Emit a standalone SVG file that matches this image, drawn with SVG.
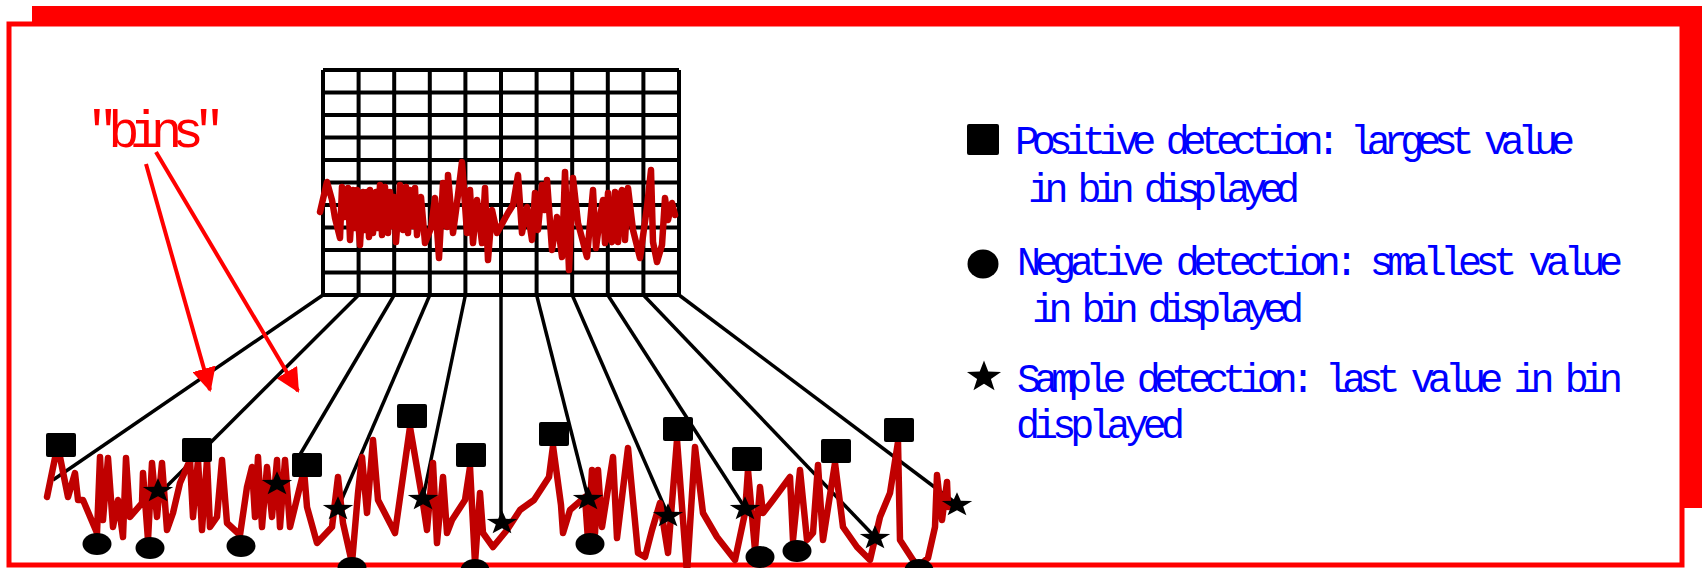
<svg xmlns="http://www.w3.org/2000/svg" width="1704" height="568" viewBox="0 0 1704 568">
<style>
.grid{fill:none;stroke:#000;stroke-width:4}
.fan{stroke:#000;stroke-width:3.5;fill:none}
.wave{fill:none;stroke:#C00000;stroke-width:6.5;stroke-linejoin:round;stroke-linecap:round}
.ptr{stroke:#FF0000;stroke-width:4;fill:none}
.leg{font-family:"Liberation Mono","DejaVu Sans Mono",monospace;font-size:40px;fill:#0000FF}
.bins{font-family:"Liberation Mono","DejaVu Sans Mono",monospace;font-size:52px;fill:#FF0000}
.mk{fill:#000}
</style>
<defs>
<marker id="ah" viewBox="0 0 24 24" refX="22" refY="12" markerWidth="24" markerHeight="24" markerUnits="userSpaceOnUse" orient="auto">
<path d="M0,0 L24,12 L0,24 Z" fill="#FF0000"/>
</marker>
<path id="star" d="M0,-16 L3.82,-5.26 L15.22,-4.94 L6.18,2.01 L9.4,12.94 L0,6.5 L-9.4,12.94 L-6.18,2.01 L-15.22,-4.94 L-3.82,-5.26 Z"/>
<rect id="sq" x="-15" y="-12" width="30" height="24" rx="2"/>
<ellipse id="dot" cx="0" cy="0" rx="14.5" ry="11"/>
</defs>

<g id="frame">
<rect x="32" y="6" width="1670" height="502" fill="#FF0000"/>
<rect x="9" y="24" width="1673" height="541" fill="#FFFFFF" stroke="#FF0000" stroke-width="5"/>
</g>

<g id="grid">
<path class="grid" d="M323,70 V295 M358.6,70 V295 M394.2,70 V295 M429.8,70 V295 M465.4,70 V295 M501,70 V295 M536.6,70 V295 M572.2,70 V295 M607.8,70 V295 M643.4,70 V295 M679,70 V295 M323,70 H679 M323,92.5 H679 M323,115 H679 M323,137.5 H679 M323,160 H679 M323,182.5 H679 M323,205 H679 M323,227.5 H679 M323,250 H679 M323,272.5 H679 M323,295 H679"/>
<polyline class="wave" points="320,212 327,182 332,200 335,218 340,238 342,187 345,217 348,188 350,240 353,190 355,228 357,190 359,232 360,245 363,192 365,230 367,192 369,237 370,190 373,233 376,192 378,228 380,185 382,235 385,187 388,233 390,192 392,226 394,197 396,242 400,185 403,230 406,187 408,233 410,190 413,226 415,188 417,235 421,197 425,243 431,228 435,198 439,258 443,183 447,227 448,175 453,233 457,203 462,162 467,233 470,190 473,243 477,200 482,243 485,188 488,260 492,210 497,233 508,213 513,205 518,175 522,233 527,207 532,240 535,193 538,230 542,185 545,210 547,180 552,250 557,217 562,257 565,172 569,270 573,178 578,223 587,257 593,190 596,248 600,217 603,200 605,243 608,193 610,238 612,242 615,192 618,242 620,195 622,190 625,240 628,188 633,230 640,258 647,207 651,170 653,242 657,262 662,245 665,198 668,220 672,203 675,215"/>
</g>

<g id="connectors">
<line class="fan" x1="323" y1="295" x2="53" y2="480"/>
<line class="fan" x1="358.6" y1="295" x2="160" y2="493"/>
<line class="fan" x1="394.2" y1="295" x2="298" y2="458"/>
<line class="fan" x1="429.8" y1="295" x2="338" y2="508"/>
<line class="fan" x1="465.4" y1="295" x2="423" y2="498"/>
<line class="fan" x1="501" y1="295" x2="501" y2="522"/>
<line class="fan" x1="536.6" y1="295" x2="588" y2="498"/>
<line class="fan" x1="572.2" y1="295" x2="668" y2="515"/>
<line class="fan" x1="607.8" y1="295" x2="745" y2="508"/>
<line class="fan" x1="643.4" y1="295" x2="875" y2="537"/>
<line class="fan" x1="679" y1="295" x2="957" y2="504"/>
<line class="ptr" x1="146" y1="164" x2="210" y2="390" marker-end="url(#ah)"/>
<line class="ptr" x1="156" y1="152" x2="298" y2="391" marker-end="url(#ah)"/>
</g>

<g id="trace">
<polyline class="wave" points="47,497 55,458 60,457 68,497 75,473 78,500 83,500 97,533 100,457 103,520 108,458 113,527 118,500 123,537 126,458 130,517 142,503 143,473 148,540 152,463 157,517 162,463 167,530 173,513 180,483 190,460 193,517 198,460 202,530 207,460 210,527 217,517 222,460 227,523 240,535 247,487 252,467 255,517 258,457 262,527 267,467 272,517 277,460 280,527 285,460 290,527 304,470 307,507 317,543 332,527 338,477 343,523 352,563 358,493 362,457 367,513 373,440 378,500 392,527 395,533 410,427 422,497 427,530 433,463 437,543 443,477 447,533 452,520 465,500 470,467 475,563 480,493 483,533 493,547 507,530 520,510 534,500 549,477 553,446 561,505 563,533 570,510 585,497 588,540 592,470 595,533 598,470 602,527 613,457 617,538 628,448 638,553 645,557 652,530 660,503 668,553 677,440 687,573 695,447 703,513 717,537 735,560 745,513 748,470 755,550 760,487 763,513 773,500 790,477 793,540 800,470 807,540 813,533 818,465 823,540 835,463 843,527 857,547 870,560 880,517 890,493 898,442 900,540 913,560 918,567 928,558 935,527 937,475 942,520 947,482 948,507"/>
</g>

<g id="positive-markers" class="mk">
<use href="#sq" x="61" y="445"/>
<use href="#sq" x="197" y="450"/>
<use href="#sq" x="307" y="465"/>
<use href="#sq" x="412" y="416"/>
<use href="#sq" x="471" y="455"/>
<use href="#sq" x="554" y="434"/>
<use href="#sq" x="678" y="429"/>
<use href="#sq" x="747" y="459"/>
<use href="#sq" x="836" y="451"/>
<use href="#sq" x="899" y="430"/>
</g>

<g id="negative-markers" class="mk">
<use href="#dot" x="97" y="544"/>
<use href="#dot" x="150" y="548"/>
<use href="#dot" x="241" y="546"/>
<use href="#dot" x="352" y="568"/>
<use href="#dot" x="475" y="570"/>
<use href="#dot" x="590" y="544"/>
<use href="#dot" x="760" y="557"/>
<use href="#dot" x="797" y="551"/>
<use href="#dot" x="919" y="570"/>
</g>

<g id="sample-markers" class="mk">
<use href="#star" transform="translate(158,491) scale(1,0.8)"/>
<use href="#star" transform="translate(277,484) scale(1,0.8)"/>
<use href="#star" transform="translate(338,509) scale(1,0.8)"/>
<use href="#star" transform="translate(423,499) scale(1,0.8)"/>
<use href="#star" transform="translate(502,523) scale(1,0.8)"/>
<use href="#star" transform="translate(588,499) scale(1,0.8)"/>
<use href="#star" transform="translate(668,516) scale(1,0.8)"/>
<use href="#star" transform="translate(745,509) scale(1,0.8)"/>
<use href="#star" transform="translate(875,538) scale(1,0.8)"/>
<use href="#star" transform="translate(957,505) scale(1,0.8)"/>
</g>

<g id="bins-label">
<text class="bins" x="87" y="147" textLength="138" lengthAdjust="spacing">"bins"</text>
</g>

<g id="legend-positive">
<rect class="mk" x="967" y="124" width="32" height="31" rx="2"/>
<text class="leg" x="1015" y="154" textLength="560" lengthAdjust="spacing">Positive detection: largest value</text>
<text class="leg" x="1028" y="202" textLength="272" lengthAdjust="spacing">in bin displayed</text>
</g>

<g id="legend-negative">
<ellipse class="mk" cx="983" cy="264" rx="15.5" ry="14.5"/>
<text class="leg" x="1017" y="275" textLength="606" lengthAdjust="spacing">Negative detection: smallest value</text>
<text class="leg" x="1032" y="322" textLength="272" lengthAdjust="spacing">in bin displayed</text>
</g>

<g id="legend-sample">
<use class="mk" href="#star" transform="translate(984,377) scale(1.12,1.03)"/>
<text class="leg" x="1017" y="392" textLength="606" lengthAdjust="spacing">Sample detection: last value in bin</text>
<text class="leg" x="1016" y="438" textLength="169" lengthAdjust="spacing">displayed</text>
</g>
</svg>
